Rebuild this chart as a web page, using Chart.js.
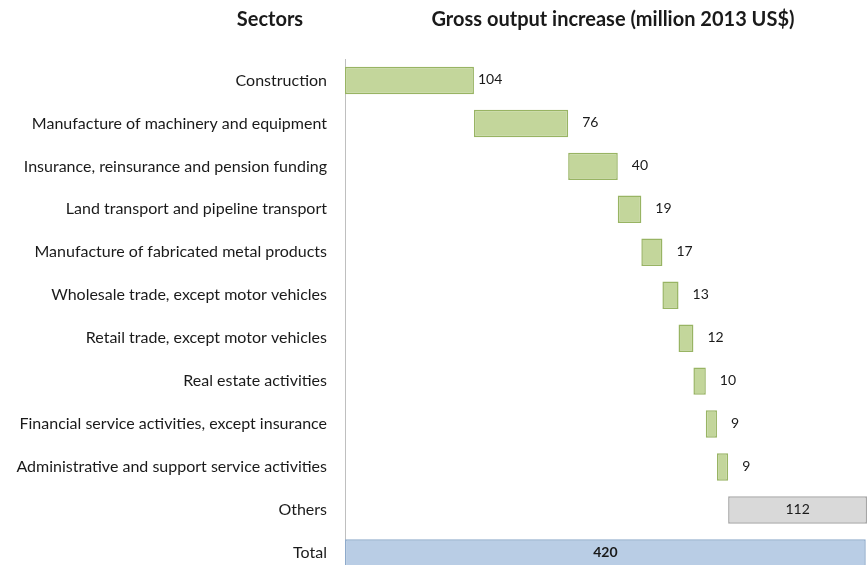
<!DOCTYPE html>
<html>
<head>
<meta charset="utf-8">
<script src="https://cdn.jsdelivr.net/npm/chart.js@4/dist/chart.umd.min.js"></script>
<style>
  html, body { margin: 0; padding: 0; background: #fff; overflow: hidden; }
  #wf { display: block; }
</style>
</head>
<body>
<canvas id="wf" width="867" height="594"></canvas>
<script>
const sectors = [
    'Construction',
    'Manufacture of machinery and equipment',
    'Insurance, reinsurance and pension funding',
    'Land transport and pipeline transport',
    'Manufacture of fabricated metal products',
    'Wholesale trade, except motor vehicles',
    'Retail trade, except motor vehicles',
    'Real estate activities',
    'Financial service activities, except insurance',
    'Administrative and support service activities',
    'Others',
    'Total'
];
const increases = [104, 76, 40, 19, 17, 13, 12, 10, 9, 9, 112];
const total = 420;

// floating bars: each step starts where the previous one ended
const ranges = [];
let run = 0;
increases.forEach(function (v) {
    ranges.push([run, run + v]);
    run += v;
});
ranges.push([0, total]);
const shown = increases.concat([total]);

const fills = sectors.map(function (s) {
    if (s === 'Total') return '#b9cde5';
    if (s === 'Others') return '#d9d9d9';
    return '#c3d69b';
});
const borders = sectors.map(function (s) {
    if (s === 'Total') return '#8eaacb';
    if (s === 'Others') return '#a6a6a6';
    return '#98b463';
});

const headings = {
    id: 'headings',
    afterDraw: function (chart) {
        const c = chart.ctx;
        c.save();
        c.font = 'bold 20px Lato';
        c.fillStyle = '#1a1a1a';
        c.textAlign = 'center';
        c.textBaseline = 'middle';
        c.fillText('Sectors', 270, 20);
        c.fillText('Gross output increase (million 2013 US$)', 613, 20);
        c.restore();
    }
};

const valueLabels = {
    id: 'valueLabels',
    afterDatasetsDraw: function (chart) {
        const c = chart.ctx;
        const bars = chart.getDatasetMeta(0).data;
        c.save();
        c.textBaseline = 'middle';
        c.fillStyle = '#1a1a1a';
        bars.forEach(function (bar, i) {
            const name = sectors[i];
            if (name === 'Total') {
                c.font = 'bold 14px Lato';
                c.textAlign = 'center';
                c.fillText(String(shown[i]), (bar.base + bar.x) / 2, bar.y);
            } else if (name === 'Others') {
                c.font = '14px Lato';
                c.textAlign = 'center';
                c.fillText(String(shown[i]), (bar.base + bar.x) / 2, bar.y);
            } else {
                c.font = '14px Lato';
                c.textAlign = 'left';
                c.fillText(String(shown[i]), bar.x + (i > 0 ? 14 : 4), bar.y - 1);
            }
        });
        c.restore();
    }
};

new Chart(document.getElementById('wf').getContext('2d'), {
    type: 'bar',
    data: {
        labels: sectors,
        datasets: [{
            data: ranges,
            backgroundColor: fills,
            borderColor: borders,
            borderWidth: 1.5,
            borderSkipped: false,
            barPercentage: 0.64,
            categoryPercentage: 1
        }]
    },
    options: {
        indexAxis: 'y',
        responsive: false,
        animation: false,
        layout: { padding: { top: 59, bottom: 2, left: 0, right: 0 } },
        plugins: {
            legend: { display: false },
            tooltip: { enabled: false }
        },
        scales: {
            x: {
                display: false,
                min: 0,
                max: 421
            },
            y: {
                grid: { display: false },
                border: { display: true, color: '#bfbfbf', width: 1 },
                ticks: {
                    color: '#1a1a1a',
                    font: { family: 'Lato', size: 16 },
                    padding: 10
                },
                afterFit: function (scale) { scale.width = 345; }
            }
        }
    },
    plugins: [headings, valueLabels]
});
</script>
</body>
</html>
